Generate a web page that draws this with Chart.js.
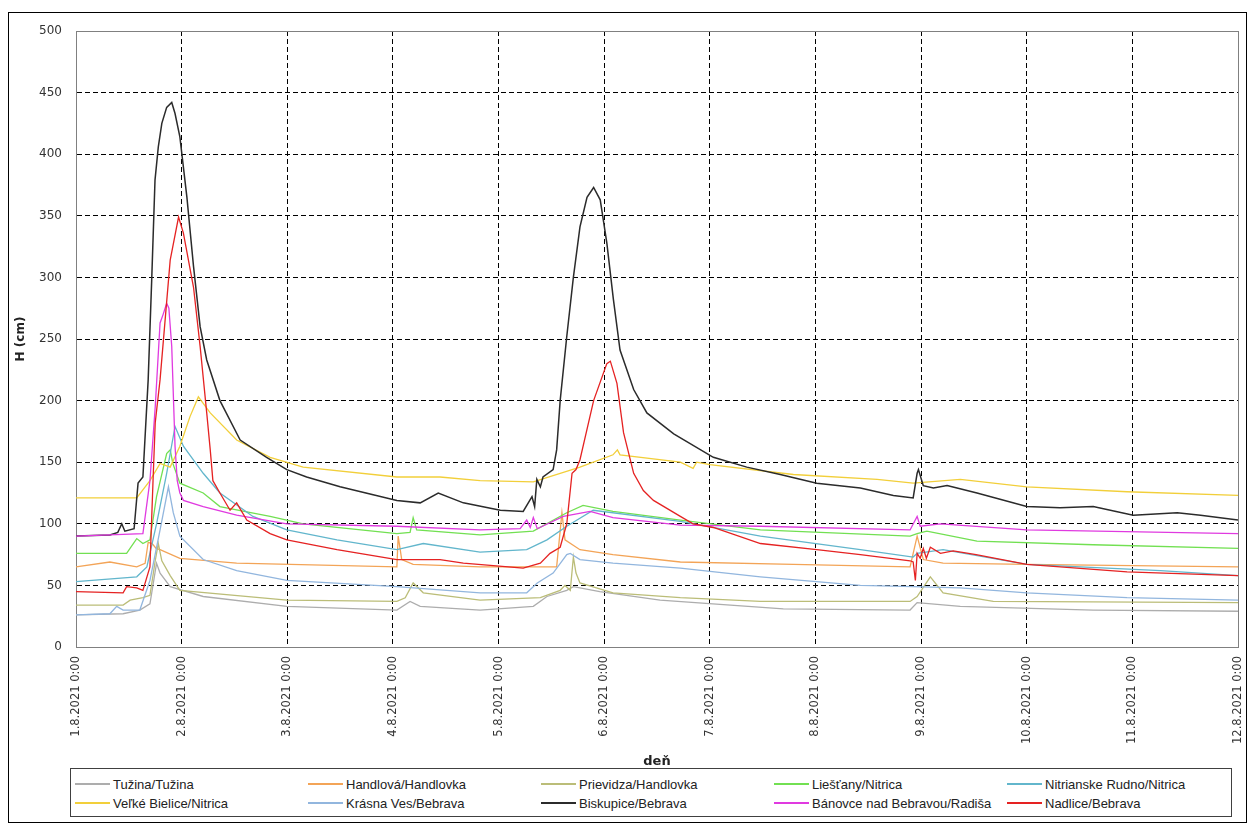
<!DOCTYPE html>
<html>
<head>
<meta charset="utf-8">
<script src="https://cdn.jsdelivr.net/npm/chart.js@4.4.1/dist/chart.umd.min.js"></script>
<style>
body { margin: 0; background: #fff; }
#wrap { position: relative; width: 1251px; height: 825px; }
#frame { position: absolute; left: 8px; top: 12px; width: 1239px; height: 811px; border: 1px solid #000; box-sizing: border-box; pointer-events: none; }
#legend { position: absolute; left: 70px; top: 768px; width: 1162px; height: 49px; border: 1px solid #404040; box-sizing: border-box; background: #fff;
  font-family: "Liberation Sans", Arial, sans-serif; font-size: 13px; color: #222; }
.item { position: absolute; display: flex; align-items: center; white-space: nowrap; height: 16px; }
.sw { display: inline-block; width: 35px; height: 2px; margin-right: 3px; }
</style>
</head>
<body>
<div id="wrap">
  <canvas id="h" width="1251" height="825"></canvas>
  <div id="frame"></div>
  <div id="legend"></div>
</div>
<script>
// tick labels (one per day, x axis in hours from 1.8.2021 0:00)
const dayLabels = ['1.8.2021 0:00', '2.8.2021 0:00', '3.8.2021 0:00', '4.8.2021 0:00', '5.8.2021 0:00', '6.8.2021 0:00',
  '7.8.2021 0:00', '8.8.2021 0:00', '9.8.2021 0:00', '10.8.2021 0:00', '11.8.2021 0:00', '12.8.2021 0:00'];

const seriesNames = ['Tužina/Tužina', 'Handlová/Handlovka', 'Prievidza/Handlovka', 'Liešťany/Nitrica', 'Nitrianske Rudno/Nitrica',
  'Veľké Bielice/Nitrica', 'Krásna Ves/Bebrava', 'Biskupice/Bebrava', 'Bánovce nad Bebravou/Radiša', 'Nadlice/Bebrava'];
const seriesColors = ['#adadad', '#f3a457', '#bbbd78', '#72e052', '#62b6cc', '#f2cf3a', '#92b6de', '#2b2b2b', '#e03ae0', '#e52222'];

// [hour, H cm]
const tuzina = [[0,26],[10.7,27],[14.5,30],[16.8,35],[18.3,68],[19.1,60],[21.4,49],[28.9,41],[47.9,33],[72.9,30],[75.9,37],[78.2,33],
  [91.8,30],[103.9,33],[107,41],[111.5,46],[113,49],[119,45],[132.7,38],[160.7,31],[189.5,30],[191.1,36],[200.9,33],[231.1,30],[264,29]];
const handlova = [[0,65],[7.7,69],[13.8,65],[15.7,68],[16.4,85],[17.3,84],[18.2,80],[19.1,79],[23.6,72],[36.5,68],[72.9,65],[73.2,90],
  [74,71],[76.6,67],[91.8,65],[109.2,65],[110.4,109],[111.1,87],[114.5,79],[122,75],[137.3,69],[163,67],[189.5,65],[191.1,90],[192.5,71],
  [197,68],[216,67],[264,65]];
const prievidza = [[0,34],[10.7,34],[12.3,38],[15.2,40],[16.8,42],[18,70],[18.7,84],[19.5,70],[21.4,58],[23.6,46],[47.9,38],[72.9,37],
  [74.8,40],[76.6,52],[78.9,44],[91.8,38],[105.5,40],[110,46],[111.1,50],[112.3,46],[113,73],[113.6,60],[114.5,52],[122,44],[137.3,40],
  [155.5,37],[189.5,37],[191.1,41],[194.1,57],[197,44],[208.4,37],[264,36]];
const liestany = [[0,76],[11.5,76],[13.8,88],[15.2,84],[16.8,87],[18.3,122],[20.6,157],[21.4,160],[22,149],[23.6,133],[28.9,125],
  [32.7,114],[44.1,106],[51.6,100],[72.9,92],[75.9,93],[76.6,105],[77.4,95],[91.8,91],[103.9,94],[111.5,109],[115.2,115],[122,110],
  [137.3,103],[155.5,95],[189.5,90],[191.1,92],[193.3,94],[204.7,86],[231.1,83],[264,80]];
const nitrRudno = [[0,53],[13.8,57],[16.1,65],[18.3,100],[20.6,141],[22.5,179],[24.4,163],[28.9,141],[32.7,125],[40.2,106],[47.9,95],
  [59.3,87],[72.9,79],[78.9,84],[91.8,77],[102.4,79],[107,87],[111.5,98],[117.5,111],[137.3,102],[155.5,90],[178.2,79],[190.2,73],
  [191.1,76],[197,79],[216,67],[246.4,62],[264,58]];
const velkeBielice = [[0,121],[13.8,121],[16.8,135],[19.1,149],[21.4,146],[23.6,163],[25.9,187],[27.8,203],[30.5,190],[36.5,168],
  [44.1,154],[51.6,146],[72.9,138],[82.7,138],[91.8,135],[103.9,134],[114.5,146],[122,156],[123,160],[123.6,156],[137.3,150],[140.2,145],
  [141,150],[144,148],[163,140],[182,136],[190.2,133],[200.9,136],[216,130],[238.8,126],[264,123]];
const krasnaVes = [[0,26],[7.7,27],[9.25,33],[10.7,30],[14.5,30],[16.8,54],[19.1,95],[21,130],[22.1,109],[23.6,90],[28.9,71],[36.5,62],
  [47.9,54],[72.9,49],[91.8,44],[102.4,44],[104.8,52],[108.4,60],[111.5,75],[112.3,76],[114.5,71],[122,68],[137.3,64],[155.5,57],
  [178.2,50],[190.2,49],[200.9,48],[216,44],[238.8,40],[264,38]];
const biskupice = [[0,90],[7.7,91],[9.5,93],[10.4,100],[11.1,94],[13.2,96],[14.1,133],[15.2,138],[16.4,217],[17.2,298],[17.95,379],
  [18.7,406],[19.5,425],[20.6,438],[21.75,442],[22.5,433],[23.6,414],[25.2,365],[26.7,309],[28.2,260],[29.7,233],[32.7,200],[37.3,168],
  [43.3,154],[47.9,144],[52.4,138],[60,130],[72.9,119],[78.2,117],[82.3,125],[88,117],[96.4,111],[101.6,110],[103.6,122],[104.2,114],
  [104.7,136],[105.5,130],[106.1,138],[108.4,144],[109.2,160],[110,200],[111.5,252],[113,300],[114.5,341],[116.1,365],[117.6,373],
  [119.1,363],[120.6,328],[122.1,282],[123.6,241],[126.7,209],[129.7,190],[135.8,173],[144.8,154],[152.4,146],[160,140],[168.3,133],
  [178.2,129],[185.7,123],[190.2,121],[191.1,141],[191.4,144],[192.5,131],[194.8,129],[197.9,131],[204.7,125],[216,114],[223.6,113],
  [231.1,114],[240.2,107],[250.2,109],[255.5,107],[264,103]];
const banovce = [[0,90],[15.2,92],[16.8,135],[18,195],[19.1,263],[19.8,270],[20.6,279],[21.1,275],[21.75,244],[22.5,163],[23,135],
  [23.6,125],[24.4,119],[28.9,114],[36.5,107],[47.9,100],[72.9,98],[91.8,95],[100.9,96],[102.4,103],[103.2,97],[103.9,105],[104.8,96],
  [110.7,106],[116.8,110],[122,105],[137.3,99],[155.5,98],[189.5,95],[191.1,106],[191.8,98],[196.4,100],[216,95],[264,92]];
const nadlice = [[0,45],[10.7,44],[11.5,49],[13.8,48],[15.2,46],[16.8,65],[17.5,135],[18,182],[19.1,217],[21.4,314],[23.3,349],[24.4,336],
  [26.7,292],[28.2,244],[29.7,190],[30.5,160],[31.1,135],[32.7,125],[35,111],[36.5,117],[38.8,103],[44.1,92],[47.9,87],[59.3,79],
  [72.9,71],[82.7,71],[88,68],[101.6,64],[105.5,68],[107.7,76],[110,81],[111.5,100],[112.7,141],[113.6,144],[114.5,152],[117.6,200],
  [120.6,230],[121.4,232],[122.9,214],[124.4,174],[126.7,141],[128.9,127],[131.2,119],[137.3,106],[140.2,100],[144.8,97],[155.5,84],
  [168.3,79],[178.2,75],[189.5,70],[190.2,69],[190.7,54],[191.1,76],[191.8,72],[192.5,80],[193.2,72],[194.1,81],[196.4,76],[199.3,78],
  [204.5,75],[216,67],[238.8,61],[264,58]];

const seriesData = [tuzina, handlova, prievidza, liestany, nitrRudno, velkeBielice, krasnaVes, biskupice, banovce, nadlice];

const datasets = seriesData.map((s, i) => ({
  label: seriesNames[i],
  data: s.map(p => ({ x: p[0], y: p[1] })),
  borderColor: seriesColors[i],
  backgroundColor: seriesColors[i],
  borderWidth: i === 7 ? 1.5 : 1.3,
  pointRadius: 0,
  tension: 0,
  fill: false,
  order: 10 - i
}));

// solid frame around the plot area
const plotFrame = {
  id: 'plotFrame',
  beforeDatasetsDraw(chart) {
    const a = chart.chartArea;
    const c = chart.ctx;
    c.save();
    c.strokeStyle = '#808080';
    c.lineWidth = 1;
    c.strokeRect(Math.round(a.left) + 0.5, Math.round(a.top) + 0.5, Math.round(a.right - a.left), Math.round(a.bottom - a.top));
    c.restore();
  }
};

const tickFont = { family: 'DejaVu Sans', size: 11.5 };

new Chart(document.getElementById('h').getContext('2d'), {
  type: 'line',
  data: { datasets: datasets },
  plugins: [plotFrame],
  options: {
    responsive: false,
    animation: false,
    layout: { padding: { left: 0, top: 31, right: 13, bottom: 0 } },
    plugins: { legend: { display: false }, tooltip: { enabled: false } },
    scales: {
      x: {
        type: 'linear',
        min: 0,
        max: 264,
        afterFit: s => { s.height = 178; s.paddingLeft = 0; s.paddingRight = 0; },
        ticks: {
          stepSize: 24,
          autoSkip: false,
          minRotation: 90,
          maxRotation: 90,
          padding: 9,
          color: '#333',
          font: tickFont,
          callback: (v, i) => dayLabels[i]
        },
        grid: { color: '#000', lineWidth: 1, drawTicks: false },
        border: { display: true, color: '#808080', dash: [5, 3] },
        title: { display: true, text: 'deň', color: '#222', font: { family: 'DejaVu Sans', size: 13, weight: 'bold' }, padding: { top: 0, bottom: 56 } }
      },
      y: {
        min: 0,
        max: 500,
        afterFit: s => { s.width = 76; },
        ticks: { stepSize: 50, padding: 14, color: '#333', font: { family: 'DejaVu Sans', size: 12 } },
        grid: { color: '#000', lineWidth: 1, drawTicks: false },
        border: { display: true, color: '#808080', dash: [5, 3] },
        title: { display: true, text: 'H (cm)', color: '#222', font: { family: 'DejaVu Sans', size: 12, weight: 'bold' }, padding: { top: 14, bottom: 0 } }
      }
    }
  }
});

// legend: 2 rows x 5 columns, built from the same names/colours
const legend = document.getElementById('legend');
seriesNames.forEach((name, i) => {
  const col = i % 5, row = Math.floor(i / 5);
  const it = document.createElement('div');
  it.className = 'item';
  it.style.left = (4 + 233 * col) + 'px';
  it.style.top = (7 + 19 * row) + 'px';
  const sw = document.createElement('span');
  sw.className = 'sw';
  sw.style.background = seriesColors[i];
  it.appendChild(sw);
  it.appendChild(document.createTextNode(name));
  legend.appendChild(it);
});
</script>
</body>
</html>
